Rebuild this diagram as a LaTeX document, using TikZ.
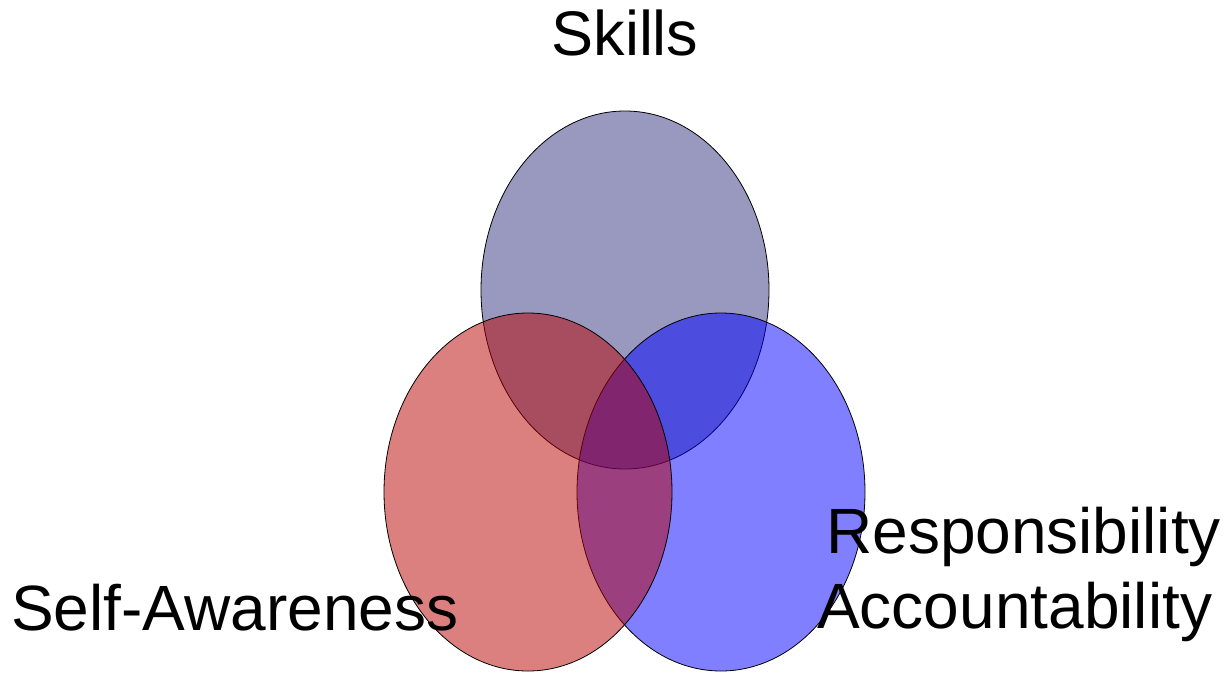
\documentclass[tikz,border=0pt]{standalone}
\usepackage{fontspec}
\setmainfont{Liberation Sans}
\usetikzlibrary{shapes.geometric}

\definecolor{skillscol}{RGB}{51,51,128}
\definecolor{awarecol}{RGB}{184,0,0}
\definecolor{respcol}{RGB}{0,0,255}

\begin{document}
\begin{tikzpicture}[x=1pt, y=-1pt,
        set/.style={ellipse, draw=black, line width=0.8pt, fill opacity=0.5,
            inner sep=0pt, minimum width=288pt, minimum height=358pt},
        word/.style={inner sep=0pt, font=\fontsize{64}{76}\selectfont}]
        \useasboundingbox (0,0) rectangle (1226,672);

        % the three sets, drawn back to front
        \node[set, fill=skillscol] (skills) at (625,290) {};
        \node[set, fill=respcol] (resp) at (721,492) {};
        \node[set, fill=awarecol] (aware) at (528,492) {};

        % labels
        \node[word, anchor=base, font=\fontsize{63}{75}\selectfont] (skillslbl) at (625,55) {Skills};
        \node[word, anchor=base west] (awarelbl) at (11,630) {Self-Awareness};
        \node[word, anchor=base west] (resplbl) at (826,553) {Responsibility};
        \node[word, anchor=base west] (acclbl) at (817,628) {Accountability};
\end{tikzpicture}
\end{document}
